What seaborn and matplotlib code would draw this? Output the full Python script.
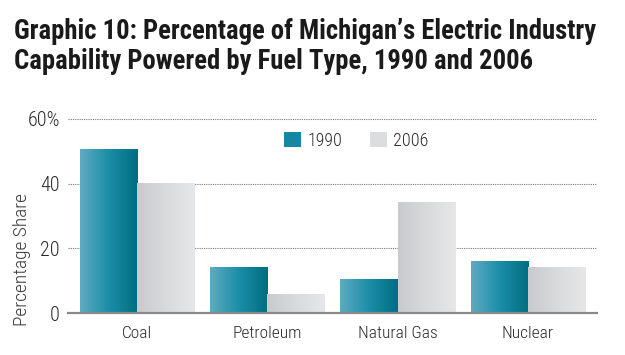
import numpy as np
import pandas as pd
import matplotlib
matplotlib.use("Agg")
import matplotlib.pyplot as plt
import seaborn as sns
from matplotlib.colors import LinearSegmentedColormap
from matplotlib.patches import Patch

categories = ["Coal", "Petroleum", "Natural Gas", "Nuclear"]
years = ["1990", "2006"]
share_1990 = [50.5, 14.0, 10.5, 16.0]
share_2006 = [40.0, 5.7, 34.0, 14.0]
ytick_values = [0, 20, 40, 60]
ytick_labels = ["0", "20", "40", "60%"]

df = pd.DataFrame({
    "Fuel": categories * 2,
    "Year": [years[0]] * 4 + [years[1]] * 4,
    "Share": share_1990 + share_2006,
})

sns.set_theme(style="white")
FONT = ["Roboto Condensed", "Archivo Narrow", "DejaVu Sans"]
plt.rcParams["font.family"] = FONT

fig = plt.figure(figsize=(6.25, 3.55), dpi=100)
ax = fig.add_axes([0.109, 0.118, 0.846, 0.547])

mid_colors = {"1990": "#1a8aa3", "2006": "#d8d9db"}
sns.barplot(data=df, x="Fuel", y="Share", hue="Year", order=categories,
            hue_order=years, palette=mid_colors, width=0.88, ax=ax,
            saturation=1, legend=False, linewidth=0)

cmaps = {
    "1990": LinearSegmentedColormap.from_list("c90", ["#5eabc1", "#1b8ea8", "#006d81"]),
    "2006": LinearSegmentedColormap.from_list("c06", ["#c8cacd", "#d9dadc", "#e6e7e8"]),
}
grad = np.linspace(0, 1, 256).reshape(1, -1)
n = len(categories)
for i, p in enumerate(ax.patches[:2 * n]):
    yr = years[i // n]
    x0, y0 = p.get_x(), p.get_y()
    w, h = p.get_width(), p.get_height()
    ax.imshow(grad, extent=[x0, x0 + w, y0, y0 + h], aspect="auto",
              cmap=cmaps[yr], zorder=3, interpolation="bilinear")

ax.set_xlim(-0.53, 3.53)
ax.set_ylim(0, 60)
ax.set_yticks(ytick_values)
ax.set_yticklabels(ytick_labels)
for y in ytick_values[1:]:
    ax.axhline(y, color="#777777", linestyle=(0, (1, 1)), linewidth=0.8, zorder=1)
for s in ["top", "right", "left"]:
    ax.spines[s].set_visible(False)
ax.spines["bottom"].set_color("#8a8a8a")
ax.spines["bottom"].set_linewidth(1.6)
ax.spines["bottom"].set_zorder(5)
ax.tick_params(axis="y", length=0, pad=6, labelsize=14.5, labelcolor="#2a2a2a")
ax.tick_params(axis="x", length=0, pad=9, labelsize=12.5, labelcolor="#2a2a2a")
for t in ax.get_xticklabels() + ax.get_yticklabels():
    t.set_family(FONT)
    t.set_fontweight("light")
ax.set_xlabel("")
ax.set_ylabel("")

fig.text(0.035, 0.268, "Percentage Share", rotation=90, ha="center", va="center",
         fontsize=14, color="#3a3a3a", family=FONT, fontweight="light")

handles = [Patch(facecolor="#1488a2", edgecolor="none"),
           Patch(facecolor="#dcdddf", edgecolor="none")]
ax.legend(handles, years, loc="center", bbox_to_anchor=(0.545, 0.887), ncol=2,
          frameon=False, handlelength=0.95, handleheight=0.95,
          handletextpad=0.35, columnspacing=1.5, labelcolor="#2a2a2a",
          prop={"family": FONT, "size": 13, "weight": "light"})

fig.text(0.022, 0.95, "Graphic 10: Percentage of Michigan\u2019s Electric Industry\n"
         "Capability Powered by Fuel Type, 1990 and 2006",
         ha="left", va="top", fontsize=19.2, fontweight="bold", color="#1a1a1a",
         linespacing=1.15, family=FONT)

fig.savefig("out.png", dpi=100)
